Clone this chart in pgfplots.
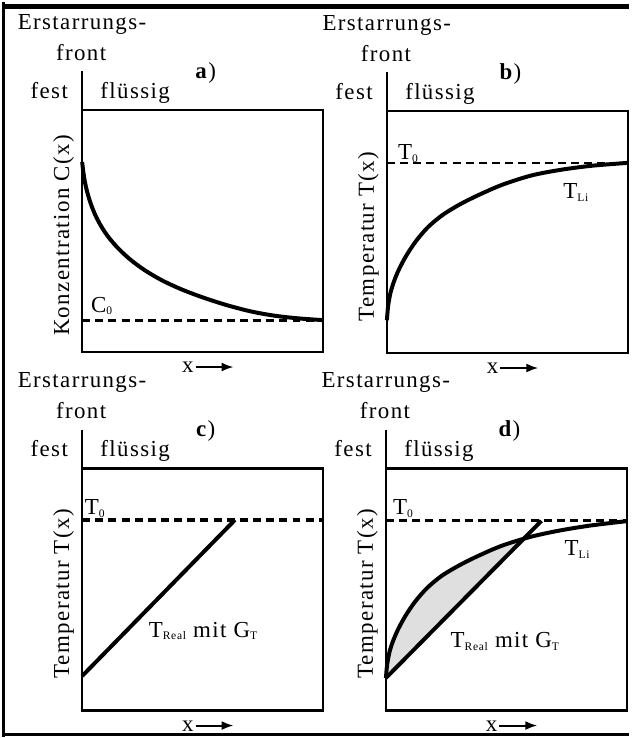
\documentclass[border=0pt]{standalone}
\usepackage{pgfplots}
\pgfplotsset{compat=1.18}
\usepackage{pgfplotstable}
\usetikzlibrary{arrows.meta}
\usepackage{fontspec}
\setmainfont[LetterSpace=6]{Liberation Serif}

% concentration profile (panel a)
\pgfplotstableread{
x y
0.000 0.785
0.004 0.750
0.010 0.710
0.020 0.665
0.035 0.615
0.055 0.565
0.080 0.518
0.110 0.474
0.150 0.428
0.200 0.382
0.260 0.338
0.330 0.297
0.410 0.260
0.500 0.226
0.600 0.194
0.700 0.168
0.800 0.150
0.900 0.139
1.000 0.132
}\konz
% liquidus temperature (panel b)
\pgfplotstableread{
x y
0.000 0.136
0.005 0.195
0.015 0.250
0.030 0.298
0.050 0.346
0.080 0.402
0.120 0.462
0.170 0.520
0.230 0.570
0.300 0.613
0.380 0.653
0.480 0.696
0.600 0.734
0.720 0.757
0.850 0.774
1.000 0.786
}\liqb
% liquidus temperature (panel d)
\pgfplotstableread{
x y
0.000 0.135
0.005 0.190
0.015 0.243
0.030 0.289
0.050 0.335
0.080 0.390
0.120 0.449
0.170 0.506
0.230 0.556
0.300 0.598
0.380 0.638
0.480 0.681
0.600 0.718
0.720 0.744
0.850 0.765
1.000 0.783
}\liqd
% shaded region (panel d): liquidus up to the crossing, back along T_Real
\pgfplotstableread{
x y
0.000 0.135
0.005 0.190
0.015 0.243
0.030 0.289
0.050 0.335
0.080 0.390
0.120 0.449
0.170 0.506
0.230 0.556
0.300 0.598
0.380 0.638
0.430 0.660
0.480 0.681
0.530 0.697
0.571 0.709
0.000 0.135
}\undercooltab

\newcommand\sub[1]{\raisebox{-1.3pt}{\fontsize{5.8}{6}\selectfont #1}}

\newcommand\panel[4]{%
 \node[anchor=base west, inner sep=0] at ({#1-65},{#2-81}) {Erstarrungs-};
 \node[anchor=base, inner sep=0] at ({#1-1},{#2-50}) {front};
 \node[anchor=base, inner sep=0] at ({#1+124},{#2-32}) {\textbf{#3})};
 \node[anchor=base, inner sep=0] at ({#1-33},{#2-12}) {fest};
 \node[anchor=base west, inner sep=0] at ({#1+18},{#2-12}) {flüssig};
 \draw[line width=1.3pt] (#1,{#2-39}) -- (#1,#2);
 \node[rotate=90, anchor=base, inner sep=0] at ({#1-13},{#2+126}) {#4};
 \node[anchor=base west, inner sep=0] at ({#1+100},{#2+264}) {x};
 \draw[line width=1pt, -{Latex[length=6pt,width=4.5pt]}] ({#1+114},{#2+258}) -- ({#1+152},{#2+258});
}

\pgfplotsset{panel/.style={scale only axis, width=121pt, height=121.5pt,
  xmin=0, xmax=1, ymin=0, ymax=1, xtick=\empty, ytick=\empty,
  axis line style={line width=1.3pt}, anchor=north west, clip=false},
  curve/.style={line width=2pt, black, smooth, no markers},
  dash0/.style={line width=1.6pt, black, dash pattern=on 4pt off 2.6pt, no markers}}

\begin{document}
\begin{tikzpicture}[every node/.style={font=\fontsize{11.5}{13}\selectfont}]
\begin{scope}[x=0.5pt, y=-0.5pt]
\useasboundingbox (0,0) rectangle (629,738);
\end{scope}

% a)
\begin{axis}[panel, at={(40pt,-54.5pt)}]
\addplot[dash0] coordinates {(0,0.132) (1,0.132)};
\addplot[curve] table {\konz};
\node[anchor=base west, inner sep=0] at (axis cs:0.035,0.165) {C\sub{0}};
\end{axis}

% b)
\begin{axis}[panel, at={(193pt,-55pt)}]
\addplot[dash0, line width=1.2pt] coordinates {(0,0.786) (1,0.786)};
\addplot[curve] table {\liqb};
\node[anchor=base west, inner sep=0] at (axis cs:0.045,0.80) {T\sub{0}};
\node[anchor=base west, inner sep=0] at (axis cs:0.73,0.638) {T\sub{Li}};
\end{axis}

% c)
\begin{axis}[panel, at={(40pt,-234.5pt)}]
\addplot[dash0] coordinates {(0,0.788) (1,0.788)};
\addplot[line width=2pt, black, no markers] coordinates {(0,0.143) (0.634,0.788)};
\node[anchor=base west, inner sep=0] at (axis cs:0.01,0.81) {T\sub{0}};
\node[anchor=base west, inner sep=0] at (axis cs:0.275,0.304) {T\sub{Real} mit G\sub{T}};
\end{axis}

% d)
\begin{axis}[panel, at={(192.5pt,-234.5pt)}]
\addplot[fill=gray!25, draw=none, no markers] table {\undercooltab};
\addplot[dash0] coordinates {(0,0.784) (1,0.784)};
\addplot[curve] table {\liqd};
\addplot[line width=2pt, black, no markers] coordinates {(0.0,0.135) (0.645,0.784)};
\node[anchor=base west, inner sep=0] at (axis cs:0.028,0.81) {T\sub{0}};
\node[anchor=base west, inner sep=0] at (axis cs:0.74,0.639) {T\sub{Li}};
\node[anchor=base west, inner sep=0] at (axis cs:0.267,0.259) {T\sub{Real} mit G\sub{T}};
\end{axis}

\begin{scope}[x=0.5pt, y=-0.5pt]
\panel{80}{109}{a}{Konzentration C(x)}
\panel{386}{110}{b}{Temperatur T(x)}
\panel{80}{469}{c}{Temperatur T(x)}
\panel{385}{469}{d}{Temperatur T(x)}
\draw[line width=2.5pt] (0,5.5) -- (629,5.5);
\draw[line width=1.5pt] (1.5,0) -- (1.5,738);
\draw[line width=1.5pt] (0,735.5) -- (629,735.5);
\end{scope}
\end{tikzpicture}
\end{document}
